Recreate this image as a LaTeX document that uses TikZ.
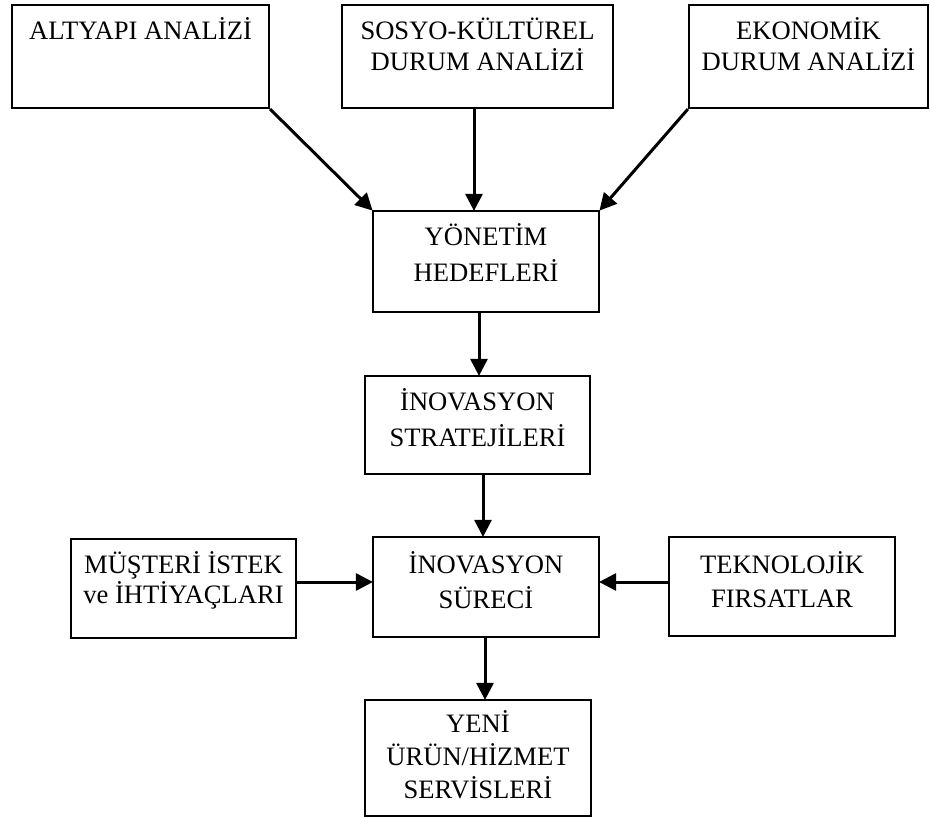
\documentclass[tikz,border=0pt]{standalone}
\usepackage{fontspec}
\setmainfont{Liberation Serif}
\usetikzlibrary{arrows.meta}

% box content: width, height, first baseline, line spacing, text
\newcommand{\boxlabel}[5]{%
  \parbox[c][#2pt][t]{#1pt}{\centering\fontsize{26.6pt}{#4pt}\selectfont
    \rule{0pt}{#3pt}#5\par}}

\tikzset{
  box/.style={draw, line width=2.2pt, inner sep=0pt, rectangle},
  arr/.style={line width=3pt, -{Triangle[length=17pt,width=17pt]}, shorten >=-1pt}
}

\begin{document}
\begin{tikzpicture}[x=1pt,y=-1pt]
\useasboundingbox (0,0) rectangle (930,818);

% top row
\node[box] (alt) at (140.5,56.5) {\boxlabel{257}{103}{35}{31}{ALTYAPI ANALİZİ}};
\node[box] (sos) at (477.5,56.5) {\boxlabel{271}{103}{35}{31}{SOSYO-KÜLTÜREL\\DURUM ANALİZİ}};
\node[box] (eko) at (808.5,56.5) {\boxlabel{239}{103}{35}{31}{EKONOMİK\\DURUM ANALİZİ}};

% central column
\node[box] (yon) at (486,261.5) {\boxlabel{226}{101}{35}{36}{YÖNETİM\\HEDEFLERİ}};
\node[box] (str) at (477.5,425) {\boxlabel{225}{98}{35}{36}{İNOVASYON\\STRATEJİLERİ}};
\node[box] (sur) at (486,587) {\boxlabel{226}{100}{36}{35}{İNOVASYON\\SÜRECİ}};
\node[box] (yeni) at (478,758) {\boxlabel{226}{116}{32}{33}{YENİ\\ÜRÜN/HİZMET\\SERVİSLERİ}};

% side inputs
\node[box] (mus) at (183.5,588.5) {\boxlabel{225}{99}{34}{30}{MÜŞTERİ İSTEK\\ve İHTİYAÇLARI}};
\node[box] (tek) at (782,586.5) {\boxlabel{226}{99}{36}{34}{TEKNOLOJİK\\FIRSATLAR}};

% connectors
\draw[arr] (alt.south east) -- (yon.north west);
\draw[arr] ([xshift=-3.5pt]sos.south) -- ([xshift=-3.5pt]sos.south |- yon.north);
\draw[arr] (eko.south west) -- (yon.north east);
\draw[arr] ([xshift=-7pt]yon.south) -- ([xshift=-7pt]yon.south |- str.north);
\draw[arr] ([xshift=5.5pt]str.south) -- ([xshift=5.5pt]str.south |- sur.north);
\draw[arr] ([yshift=6.5pt]mus.east) -- ([yshift=6.5pt]mus.east -| sur.west);
\draw[arr] ([yshift=4.5pt]tek.west) -- ([yshift=4.5pt]tek.west -| sur.east);
\draw[arr] ([xshift=-1pt]sur.south) -- ([xshift=-1pt]sur.south |- yeni.north);
\end{tikzpicture}
\end{document}
